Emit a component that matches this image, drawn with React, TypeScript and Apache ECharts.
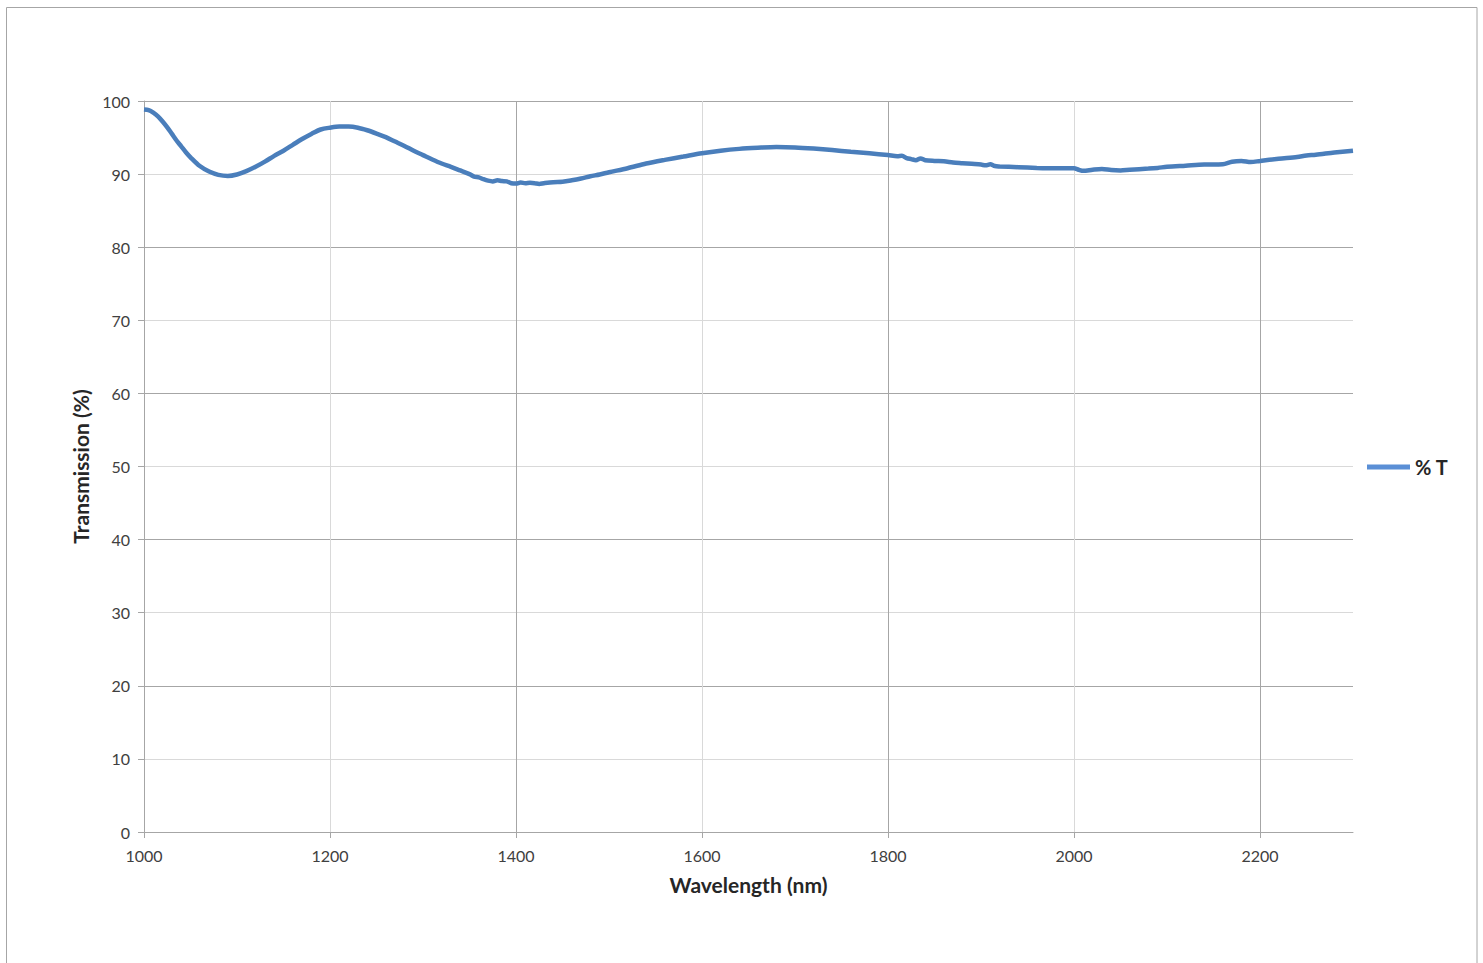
import React, { useEffect, useRef } from "react";
import * as echarts from "echarts";

const wavelengths = [
  1000, 1005, 1010, 1015, 1020, 1025, 1030, 1035, 1040, 1045, 1050, 1060, 1070, 1080, 1090, 1100,
  1110, 1120, 1130, 1140, 1150, 1160, 1170, 1180, 1190, 1200, 1210, 1220, 1230, 1240, 1250, 1260,
  1270, 1280, 1290, 1300, 1310, 1320, 1330, 1340, 1350, 1355, 1360, 1365, 1370, 1375, 1380, 1385,
  1390, 1395, 1400, 1405, 1410, 1415, 1420, 1425, 1430, 1440, 1450, 1460, 1470, 1480, 1490, 1500,
  1520, 1540, 1560, 1580, 1600, 1620, 1640, 1660, 1680, 1700, 1720, 1740, 1760, 1780, 1800, 1810,
  1815, 1820, 1825, 1830, 1835, 1840, 1850, 1860, 1870, 1880, 1890, 1900, 1905, 1910, 1915, 1920,
  1940, 1960, 1980, 2000, 2005, 2010, 2020, 2030, 2040, 2050, 2060, 2080, 2090, 2100, 2120, 2140,
  2160, 2170, 2180, 2190, 2200, 2220, 2240, 2250, 2260, 2280, 2300,
];

const transmission = [
  98.85, 98.75, 98.4, 97.9, 97.2, 96.4, 95.5, 94.6, 93.8, 93.0, 92.3, 91.1, 90.35, 89.9, 89.75, 89.95,
  90.4, 91.0, 91.7, 92.5, 93.2, 94.0, 94.8, 95.5, 96.1, 96.35, 96.5, 96.5, 96.35, 96.0, 95.55, 95.05,
  94.45, 93.85, 93.2, 92.6, 92.0, 91.45, 91.0, 90.5, 90.0, 89.65, 89.55, 89.3, 89.1, 89.0, 89.15, 89.05,
  89.0, 88.75, 88.7, 88.85, 88.75, 88.8, 88.75, 88.65, 88.75, 88.9, 88.95, 89.15, 89.4, 89.7, 89.95, 90.25,
  90.8, 91.45, 91.95, 92.4, 92.85, 93.2, 93.45, 93.6, 93.7, 93.65, 93.5, 93.3, 93.05, 92.85, 92.6, 92.45,
  92.5, 92.2, 92.05, 91.9, 92.15, 91.9, 91.8, 91.75, 91.6, 91.5, 91.4, 91.3, 91.2, 91.35, 91.1, 91.05,
  90.95, 90.85, 90.8, 90.8, 90.6, 90.45, 90.6, 90.7, 90.55, 90.5, 90.6, 90.75, 90.85, 91.0, 91.15, 91.3,
  91.35, 91.7, 91.8, 91.65, 91.8, 92.1, 92.35, 92.55, 92.65, 92.95, 93.2,
];

const xTickLabels = [1000, 1200, 1400, 1600, 1800, 2000, 2200];
const yTickLabels = [0, 10, 20, 30, 40, 50, 60, 70, 80, 90, 100];

const seriesName = "% T";
const FONT = "Lato, 'Open Sans', sans-serif";

export default function App() {
  const ref = useRef<HTMLDivElement>(null);

  useEffect(() => {
    if (!ref.current) return;
    const chart = echarts.init(ref.current, null, { renderer: "svg" });
    const points = wavelengths.map((w, i) => [w, transmission[i]]);
    chart.setOption({
      animation: false,
      backgroundColor: "#ffffff",
      textStyle: { fontFamily: FONT },
      graphic: [
        {
          type: "rect",
          shape: { x: 6.5, y: 7.5, width: 1470.5, height: 980 },
          style: { fill: "none", stroke: "#a6a6a6", lineWidth: 1 },
          silent: true,
        },
      ],
      grid: { left: 144, right: 130, top: 101, bottom: 131, containLabel: false },
      legend: {
        left: 1367,
        top: 457,
        padding: 0,
        orient: "vertical",
        icon: "rect",
        itemWidth: 43,
        itemHeight: 5,
        textStyle: { fontFamily: FONT, fontSize: 20, fontWeight: "bold", color: "#262626" },
        data: [{ name: seriesName, itemStyle: { color: "#5b8fd6" } }],
      },
      xAxis: {
        type: "value",
        min: 1000,
        max: 2300,
        interval: 100,
        name: "Wavelength (nm)",
        nameLocation: "middle",
        nameGap: 42,
        nameTextStyle: { fontFamily: FONT, fontSize: 21, fontWeight: "bold", color: "#262626" },
        axisLine: { show: true, lineStyle: { color: "#a6a6a6", width: 1 } },
        axisTick: { show: true, length: 6, customValues: xTickLabels, lineStyle: { color: "#a6a6a6" } },
        axisLabel: {
          customValues: xTickLabels,
          formatter: (v: number) => String(v),
          margin: 15,
          fontFamily: FONT,
          fontSize: 16,
          color: "#404040",
        },
        splitLine: { show: true, lineStyle: { color: ["#a6a6a6", "#d9d9d9"], width: 1 } },
      },
      yAxis: {
        type: "value",
        min: 0,
        max: 100,
        interval: 5,
        name: "Transmission (%)",
        nameLocation: "middle",
        nameGap: 48,
        nameTextStyle: { fontFamily: FONT, fontSize: 21, fontWeight: "bold", color: "#262626" },
        axisLine: { show: true, lineStyle: { color: "#a6a6a6", width: 1 } },
        axisTick: { show: true, length: 6, customValues: yTickLabels, lineStyle: { color: "#a6a6a6" } },
        axisLabel: {
          customValues: yTickLabels,
          formatter: (v: number) => String(v),
          margin: 14,
          fontFamily: FONT,
          fontSize: 16,
          color: "#404040",
        },
        splitLine: { show: true, lineStyle: { color: ["#a6a6a6", "#d9d9d9"], width: 1 } },
      },
      series: [
        {
          name: seriesName,
          type: "line",
          data: points,
          showSymbol: false,
          smooth: 0.3,
          lineStyle: { color: "#4a7ebb", width: 4.5 },
          itemStyle: { color: "#4a7ebb" },
        },
      ],
    });
    return () => chart.dispose();
  }, []);

  return (
    <div
      ref={ref}
      style={{ position: "fixed", left: 0, top: 0, width: 1483, height: 963, background: "#fff" }}
    />
  );
}
